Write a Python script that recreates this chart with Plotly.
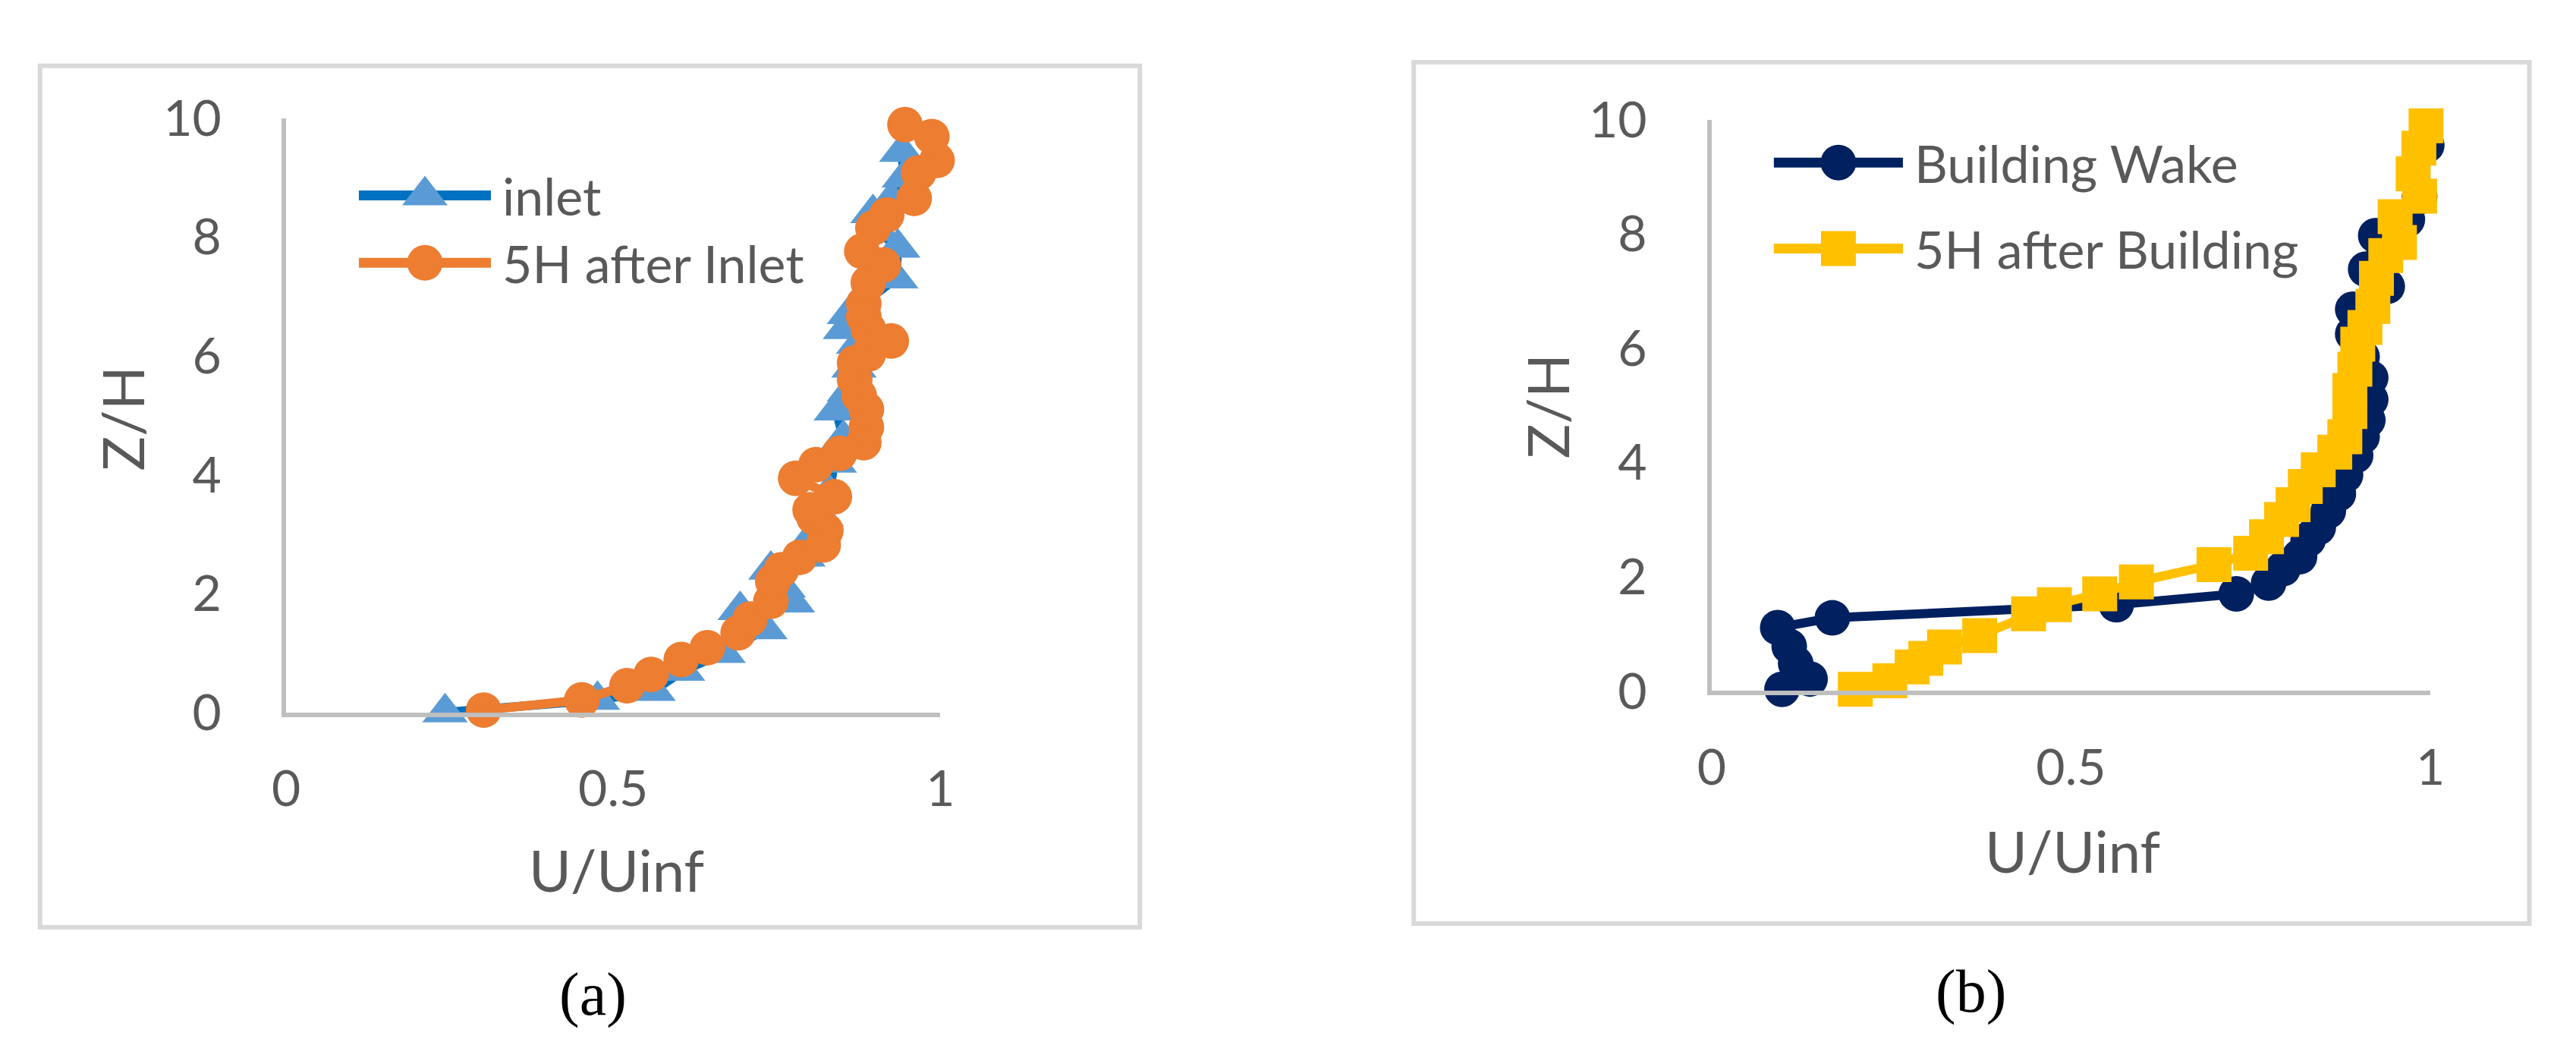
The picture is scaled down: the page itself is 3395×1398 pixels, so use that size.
import plotly.graph_objects as go

W, H = 3395, 1398
OFF = 8  # default page body margin of the written html

# ---------------- data ----------------
# Panel (a)
inlet_u = [0.243, 0.476, 0.561, 0.606, 0.668, 0.732, 0.694, 0.774, 0.760, 0.741,
           0.790, 0.800, 0.818, 0.830, 0.838, 0.852, 0.841, 0.861, 0.868, 0.875,
           0.855, 0.861, 0.932, 0.935, 0.905, 0.897, 0.925, 0.945, 0.941]
inlet_z = [0.00, 0.21, 0.36, 0.70, 1.00, 1.40, 1.72, 1.85, 2.10, 2.40,
           2.62, 2.90, 3.30, 3.70, 4.20, 4.60, 5.08, 5.40, 5.80, 6.20,
           6.45, 6.70, 7.30, 7.82, 8.10, 8.40, 8.62, 9.00, 9.43]

after_inlet_u = [0.302, 0.452, 0.521, 0.558, 0.604, 0.644, 0.691, 0.709, 0.741, 0.744,
                 0.757, 0.785, 0.821, 0.825, 0.807, 0.801, 0.838, 0.779, 0.810, 0.846,
                 0.883, 0.887, 0.887, 0.876, 0.869, 0.869, 0.890, 0.925, 0.890, 0.883,
                 0.883, 0.890, 0.913, 0.880, 0.897, 0.918, 0.960, 0.967, 0.995, 0.987,
                 0.946]
after_inlet_z = [0.04, 0.21, 0.45, 0.64, 0.89, 1.09, 1.34, 1.57, 1.87, 2.20,
                 2.40, 2.61, 2.82, 3.06, 3.28, 3.41, 3.63, 3.94, 4.17, 4.36,
                 4.54, 4.80, 5.10, 5.33, 5.60, 5.88, 6.03, 6.25, 6.45, 6.66,
                 6.88, 7.23, 7.53, 7.76, 8.15, 8.37, 8.65, 9.08, 9.29, 9.69,
                 9.89]

# Panel (b)
wake_u = [0.098, 0.137, 0.117, 0.108, 0.092, 0.168, 0.563, 0.730, 0.775, 0.795,
          0.818, 0.830, 0.844, 0.858, 0.872, 0.882, 0.896, 0.905, 0.913, 0.917,
          0.917, 0.905, 0.892, 0.892, 0.940, 0.910, 0.924, 0.968, 0.985, 1.004,
          0.995]
wake_z = [0.03, 0.21, 0.48, 0.78, 1.11, 1.28, 1.51, 1.70, 1.89, 2.14,
          2.35, 2.65, 2.86, 3.15, 3.45, 3.78, 4.12, 4.45, 4.74, 5.10,
          5.48, 5.85, 6.25, 6.68, 7.08, 7.38, 7.97, 8.25, 8.65, 9.12,
          9.55]

after_bldg_u = [0.200, 0.248, 0.279, 0.298, 0.324, 0.373, 0.441, 0.477, 0.540, 0.591,
                0.699, 0.750, 0.772, 0.793, 0.809, 0.826, 0.844, 0.867, 0.881, 0.888,
                0.888, 0.895, 0.899, 0.909, 0.920, 0.925, 0.938, 0.957, 0.951, 0.985,
                0.976, 0.984, 0.994]
after_bldg_z = [0.03, 0.18, 0.42, 0.57, 0.77, 0.97, 1.35, 1.51, 1.70, 1.91,
                2.21, 2.41, 2.70, 3.00, 3.26, 3.58, 3.87, 4.18, 4.45, 4.89,
                5.26, 5.63, 6.07, 6.36, 6.73, 7.22, 7.62, 7.85, 8.30, 8.66,
                9.05, 9.50, 9.89]

x_tickvals = [0, 0.5, 1]
x_ticktext = ["0", "0.5", "1"]
y_tickvals = [0, 2, 4, 6, 8, 10]
y_ticktext = ["0", "2", "4", "6", "8", "10"]

series_a = [
    dict(name="inlet", u=inlet_u, z=inlet_z, line="#0070C0", marker="#5B9BD5", symbol="triangle-up"),
    dict(name="5H after Inlet", u=after_inlet_u, z=after_inlet_z, line="#ED7D31", marker="#ED7D31", symbol="circle"),
]
series_b = [
    dict(name="Building Wake", u=wake_u, z=wake_z, line="#002060", marker="#002060", symbol="circle"),
    dict(name="5H after Building", u=after_bldg_u, z=after_bldg_z, line="#FFC000", marker="#FFC000", symbol="square"),
]

# ---------------- styling / layout ----------------
TXT = "#595959"
FONT = "Lato"
TICK_SIZE = 66
TITLE_SIZE = 76
LEG_SIZE = 68
LINE_W = 12
MSIZE = {"circle": 47, "square": 46, "triangle-up": 52}


def px_x(p):
    return (p - OFF) / W


def px_y(p):
    return 1 - (p - OFF) / H


# plot-area pixel boxes: (x0, x1, ytop(Z=10), ybottom(Z=0))
box_a = (362, 1234, 120, 950)
box_b = (2262, 3220, 122, 920)

fig = go.Figure()

for s in series_a:
    fig.add_trace(go.Scatter(
        x=s["u"], y=s["z"], name=s["name"], mode="lines+markers",
        line=dict(color=s["line"], width=LINE_W),
        marker=dict(symbol=s["symbol"], size=MSIZE[s["symbol"]], color=s["marker"],
                    opacity=1, line=dict(width=0)),
        xaxis="x", yaxis="y", cliponaxis=False, showlegend=False))
for s in series_b:
    fig.add_trace(go.Scatter(
        x=s["u"], y=s["z"], name=s["name"], mode="lines+markers",
        line=dict(color=s["line"], width=LINE_W),
        marker=dict(symbol=s["symbol"], size=MSIZE[s["symbol"]], color=s["marker"],
                    opacity=1, line=dict(width=0)),
        xaxis="x2", yaxis="y2", cliponaxis=False, showlegend=False))

# legend keys drawn on a full-figure pixel overlay axis
legend_specs = [
    (series_a, 459, 635, 648, [228, 322]),
    (series_b, 2345, 2517, 2530, [182, 302]),
]
annotations = []
for ser, lx0, lx1, tx, rows in legend_specs:
    for s, ry in zip(ser, rows):
        fig.add_trace(go.Scatter(
            x=[lx0 - OFF, (lx0 + lx1) / 2 - OFF, lx1 - OFF], y=[ry - OFF] * 3, mode="lines+markers",
            line=dict(color=s["line"], width=13),
            marker=dict(symbol=s["symbol"], size=[0, MSIZE[s["symbol"]], 0], color=s["marker"],
                        opacity=1, line=dict(width=0)),
            xaxis="x3", yaxis="y3", cliponaxis=False, showlegend=False, hoverinfo="skip"))
        annotations.append(dict(
            text=s["name"], x=px_x(tx), y=px_y(ry), xref="paper", yref="paper",
            xanchor="left", yanchor="middle", showarrow=False,
            font=dict(family=FONT, size=LEG_SIZE, color=TXT)))


def xaxis_cfg(box):
    return dict(domain=[px_x(box[0]), px_x(box[1])], range=[0, 1],
                tickvals=x_tickvals, ticktext=x_ticktext,
                showline=True, linecolor="#BFBFBF", linewidth=6,
                showgrid=False, zeroline=False, ticks="",
                ticklabelstandoff=38,
                tickfont=dict(family=FONT, size=TICK_SIZE, color=TXT))


def yaxis_cfg(box):
    return dict(domain=[px_y(box[3]), px_y(box[2])], range=[0, 10],
                tickvals=y_tickvals, ticktext=y_ticktext,
                showline=True, linecolor="#BFBFBF", linewidth=6,
                showgrid=False, zeroline=False, ticks="",
                ticklabelstandoff=66,
                tickfont=dict(family=FONT, size=TICK_SIZE, color=TXT))


xa = xaxis_cfg(box_a); xa["anchor"] = "y"
ya = yaxis_cfg(box_a); ya["anchor"] = "x"
xb = xaxis_cfg(box_b); xb["anchor"] = "y2"
yb = yaxis_cfg(box_b); yb["anchor"] = "x2"

# axis titles and captions
for txt, x, y, ang in [("Z/H", 144, 539, -90), ("U/Uinf", 802, 1169, 0),
                       ("Z/H", 2043, 522, -90), ("U/Uinf", 2743, 1143, 0)]:
    annotations.append(dict(text=txt, x=px_x(x), y=px_y(y), xref="paper", yref="paper",
                            xanchor="center", yanchor="middle", showarrow=False, textangle=ang,
                            font=dict(family=FONT, size=TITLE_SIZE, color=TXT)))
for txt, x, y in [("(a)", 771, 1344), ("(b)", 2608, 1340)]:
    annotations.append(dict(text=txt, x=px_x(x), y=px_y(y), xref="paper", yref="paper",
                            xanchor="center", yanchor="middle", showarrow=False,
                            font=dict(family="Liberation Serif", size=80, color="#000000")))

shapes = []
for x0, x1, y0, y1 in [(34, 1500, 47, 1250), (1865, 3352, 42, 1245)]:
    shapes.append(dict(type="rect", xref="paper", yref="paper",
                       x0=px_x(x0), x1=px_x(x1), y0=px_y(y1), y1=px_y(y0),
                       line=dict(color="#D9D9D9", width=6), fillcolor="rgba(0,0,0,0)", layer="below"))

fig.update_layout(
    width=W, height=H, autosize=False,
    margin=dict(l=0, r=0, t=0, b=0, pad=0),
    paper_bgcolor="white", plot_bgcolor="rgba(0,0,0,0)",
    xaxis=xa, yaxis=ya, xaxis2=xb, yaxis2=yb,
    xaxis3=dict(domain=[0, 1], range=[0, W], visible=False, anchor="y3", fixedrange=True),
    yaxis3=dict(domain=[0, 1], range=[H, 0], visible=False, anchor="x3", fixedrange=True),
    annotations=annotations, shapes=shapes, showlegend=False,
)

fig.write_html("out.html")
